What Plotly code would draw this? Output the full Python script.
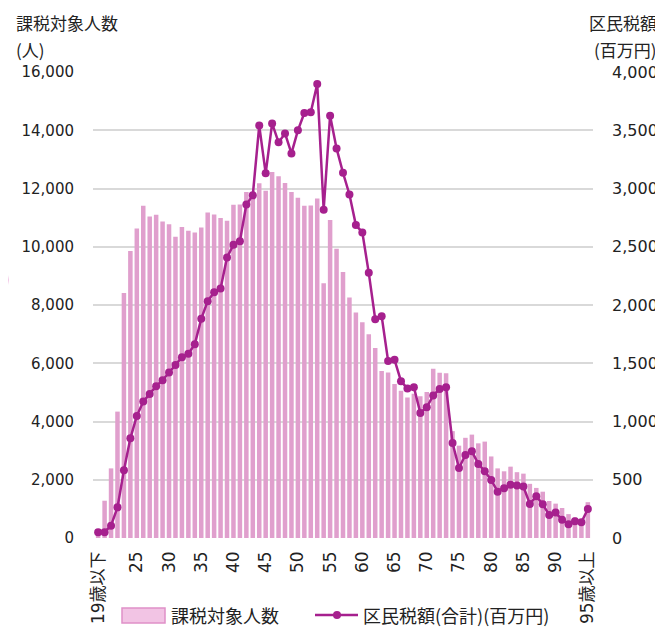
import plotly.graph_objects as go

# age categories: 19 and under, 20..94, 95 and over
ages = ["19歳以下"] + [str(a) for a in range(20, 95)] + ["95歳以上"]

# 課税対象人数 (people)
taxpayers = [
    150, 1280, 2390, 4340, 8410, 9850, 10630, 11410, 11040, 11100,
    10870, 10770, 10340, 10680, 10550, 10490, 10660, 11180, 11110, 10990,
    10890, 11440, 11450, 11880, 11820, 12180, 11920, 12570, 12420, 12190,
    11880, 11680, 11410, 11420, 11660, 8750, 10920, 9930, 9130, 8260,
    7740, 7410, 7000, 6520, 5730, 5680, 5290, 5060, 4820, 4950,
    4870, 5010, 5810, 5670, 5660, 3670, 3170, 3440, 3550, 3250,
    3310, 2800, 2390, 2290, 2450, 2260, 2210, 1860, 1720, 1590,
    1270, 1180, 1030, 820, 710, 600, 1230,
]

# 区民税額(合計) (million yen)
ward_tax = [
    50, 50, 106, 263, 581, 856, 1048, 1171, 1237, 1303,
    1354, 1420, 1486, 1552, 1581, 1664, 1881, 2033, 2110, 2142,
    2408, 2517, 2548, 2863, 2941, 3540, 3130, 3559, 3396, 3473,
    3301, 3499, 3648, 3654, 3897, 2818, 3625, 3344, 3135, 2949,
    2686, 2623, 2276, 1878, 1904, 1520, 1529, 1346, 1283, 1294,
    1074, 1122, 1223, 1280, 1294, 816, 601, 713, 744, 636,
    573, 498, 398, 427, 458, 450, 441, 292, 358, 289,
    198, 218, 157, 117, 143, 135, 249,
]

tick_labels = ["19歳以下"] + [str(a) for a in range(25, 95, 5)] + ["95歳以上"]

BAR = "#e09fcd"
LINE = "#a6208e"
TXT = "#222222"
FONT = "DejaVu Sans, Noto Sans CJK JP, sans-serif"
JP = "Noto Sans CJK JP, sans-serif"

fig = go.Figure()

fig.add_trace(go.Bar(
    x=ages, y=taxpayers, name="課税対象人数",
    marker=dict(color=BAR, line=dict(width=0)),
    yaxis="y",
))

fig.add_trace(go.Scatter(
    x=ages, y=ward_tax, name="区民税額(合計)(百万円)",
    mode="lines+markers",
    line=dict(color=LINE, width=2.5),
    marker=dict(color=LINE, size=8),
    yaxis="y2",
))

# page body has an 8px margin, so the figure is 8px smaller and shifted
fig.update_layout(
    width=655, height=629,
    margin=dict(l=85, r=70, t=64, b=99),
    paper_bgcolor="white", plot_bgcolor="white",
    showlegend=False,
    bargap=0.3,
    font=dict(family=FONT, size=15, color=TXT),
    xaxis=dict(
        type="category", range=[-0.8, 76.8],
        tickmode="array", tickvals=tick_labels, ticktext=tick_labels,
        tickangle=-90, tickfont=dict(size=17, family=FONT),
        showgrid=False, showline=False, zeroline=False,
        ticks="", ticklabelstandoff=9, automargin=False,
    ),
    yaxis=dict(
        range=[0, 16000], dtick=2000, tickformat=",d",
        showgrid=True, gridcolor="#d9d9d9", gridwidth=1.5,
        zeroline=False, showline=False, ticks="",
        ticklabelstandoff=18, automargin=False,
    ),
    yaxis2=dict(
        range=[0, 4000], dtick=500, tickformat=",d",
        overlaying="y", side="right", showgrid=False,
        zeroline=False, showline=False, ticks="",
        ticklabelstandoff=18, automargin=False,
        tickfont=dict(size=16),
    ),
)


# helpers: screenshot pixels -> paper coords of the plot area
def px_x(p):
    return (p - 93) / 500.0


def px_y(p):
    return (538 - p) / 466.0


# axis titles
for text, x, y, anchor in [
    ("課税対象人数", 14, 22, "left"), ("(人)", 14, 49, "left"),
    ("区民税額", 659, 22, "right"), ("(百万円)", 659, 49, "right"),
]:
    fig.add_annotation(
        text=text, xref="paper", yref="paper", x=px_x(x), y=px_y(y),
        xanchor=anchor, yanchor="middle", showarrow=False,
        font=dict(family=JP, size=17, color=TXT),
    )

# custom legend
fig.add_shape(type="rect", xref="paper", yref="paper",
              x0=px_x(122), x1=px_x(165), y0=px_y(623), y1=px_y(608),
              fillcolor="#f2c4e4", line=dict(color="#e090c8", width=1.5))
fig.add_annotation(text="課税対象人数", xref="paper", yref="paper",
                   x=px_x(169), y=px_y(615), xanchor="left", yanchor="middle",
                   showarrow=False, font=dict(family=JP, size=18, color=TXT))
fig.add_shape(type="line", xref="paper", yref="paper",
              x0=px_x(315), x1=px_x(358), y0=px_y(615), y1=px_y(615),
              line=dict(color=LINE, width=2.5))
fig.add_shape(type="circle", xref="paper", yref="paper",
              x0=px_x(333), x1=px_x(341), y0=px_y(619), y1=px_y(611),
              fillcolor=LINE, line=dict(color=LINE, width=0))
fig.add_annotation(text="区民税額(合計)(百万円)", xref="paper", yref="paper",
                   x=px_x(361), y=px_y(615), xanchor="left", yanchor="middle",
                   showarrow=False, font=dict(family=JP, size=18, color=TXT))

# pink chevron at the left edge of the page
fig.add_shape(type="path", xref="paper", yref="paper",
              path=f"M {px_x(0)},{px_y(234)} L {px_x(9)},{px_y(280)} L {px_x(0)},{px_y(324)} Z",
              fillcolor="#f2c6e6", line=dict(width=0), layer="below")

fig.write_html("out.html")
